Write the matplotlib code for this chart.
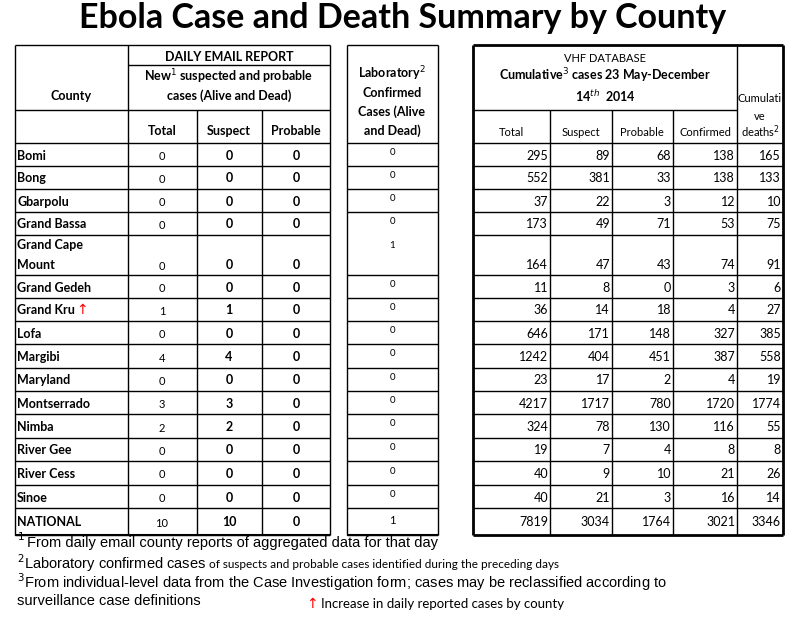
import matplotlib
matplotlib.use("Agg")
import matplotlib.pyplot as plt

counties = ["Bomi","Bong","Gbarpolu","Grand Bassa","Grand Cape\nMount","Grand Gedeh","Grand Kru",
            "Lofa","Margibi","Maryland","Montserrado","Nimba","River Gee","River Cess","Sinoe","NATIONAL"]
daily_total = [0,0,0,0,0,0,1,0,4,0,3,2,0,0,0,10]
daily_suspect = [0,0,0,0,0,0,1,0,4,0,3,2,0,0,0,10]
daily_probable = [0]*16
lab_confirmed = [0,0,0,0,1,0,0,0,0,0,0,0,0,0,0,1]
cum_total = [295,552,37,173,164,11,36,646,1242,23,4217,324,19,40,40,7819]
cum_suspect = [89,381,22,49,47,8,14,171,404,17,1717,78,7,9,21,3034]
cum_probable = [68,33,3,71,43,0,18,148,451,2,780,130,4,10,3,1764]
cum_confirmed = [138,138,12,53,74,3,4,327,387,4,1720,116,8,21,16,3021]
cum_deaths = [165,133,10,75,91,6,27,385,558,19,1774,55,8,26,14,3346]

row_edges = [143,166,189,212,235,275,298,321,344,368,391,414,438,461,485,508,535]
F = ['Lato', 'DejaVu Sans']
N = ['Liberation Sans', 'DejaVu Sans']

fig = plt.figure(figsize=(8.06, 6.24), dpi=100)
ax = fig.add_axes([0, 0, 1, 1])
ax.set_xlim(0, 806); ax.set_ylim(624, 0); ax.axis('off')
renderer = fig.canvas.get_renderer()

def right_edge(txt):
    bb = txt.get_window_extent(renderer=renderer)
    return ax.transData.inverted().transform((bb.x1, bb.y0))[0]

def hl(y, x0, x1, lw=1):
    ax.plot([x0, x1], [y, y], color='black', lw=lw, solid_capstyle='butt')
def vl(x, y0, y1, lw=1):
    ax.plot([x, x], [y0, y1], color='black', lw=lw, solid_capstyle='butt')
def t(x, y, s, size=9, bold=True, ha='center', fam=F, color='black'):
    return ax.text(x, y, s, fontsize=size, fontweight='bold' if bold else 'normal', ha=ha, va='center',
                   family=fam, color=color)

ax.text(403, 18, "Ebola Case and Death Summary by County", fontsize=24.5, fontweight='bold',
        ha='center', va='center', family=F)

top, bot = 45, 535
for x in [15, 330]:
    vl(x, top, bot)
vl(128, top, bot); vl(197, 110, bot); vl(262, 110, bot)
vl(347, top, bot); vl(438, top, bot)
hl(top, 15, 330); hl(top, 347, 438); hl(65, 128, 330); hl(110, 15, 330)
for y in row_edges:
    hl(y, 15, 330)
    if y != 235:
        hl(y, 347, 438)
hl(bot, 15, 330, 1.5); hl(bot, 347, 438, 1.5)

vl(473, top, bot, 2); vl(783, top, bot, 2); vl(737, top, bot)
for x in [550, 612, 673]:
    vl(x, 110, bot)
hl(top, 473, 783, 2); hl(bot, 473, 783, 2); hl(110, 473, 737)
for y in row_edges[:-1]:
    hl(y, 473, 783)

t(71, 96, "County")
t(229, 57, "DAILY EMAIL REPORT")
t(229, 77, "New$^{1}$ suspected and probable")
t(229, 96, "cases (Alive and Dead)")
t(162, 131, "Total"); t(229, 131, "Suspect"); t(296, 131, "Probable")
for i, s in enumerate(["Laboratory$^{2}$", "Confirmed", "Cases (Alive", "and Dead)"]):
    t(392, 74 + i * 19, s)
t(605, 58, "VHF DATABASE", size=8, bold=False)
t(605, 76, "Cumulative$^{3}$ cases 23 May-December")
t(605, 96, "14$^{th}$  2014")
t(760, 99, "Cumulati", size=8, bold=False); t(760, 116, "ve", size=8, bold=False)
t(760, 132, "deaths$^{2}$", size=8, bold=False)
t(511, 132, "Total", size=8, bold=False); t(581, 132, "Suspect", size=8, bold=False)
t(642, 132, "Probable", size=8, bold=False); t(705, 132, "Confirmed", size=8, bold=False)

for i, c in enumerate(counties):
    y0, y1 = row_edges[i], row_edges[i + 1]
    yc = (y0 + y1) / 2 + 1
    if "\n" in c:
        a, b = c.split("\n")
        t(17, y0 + 10, a, ha='left'); t(17, y1 - 10, b, ha='left')
        yv = y1 - 10
        t(392, y0 + 10, str(lab_confirmed[i]), size=7, bold=False)
    else:
        lab = t(17, yc, c, ha='left')
        yv = yc
        t(392, yc - 3 if i < 15 else yc - 2, str(lab_confirmed[i]), size=7 if i < 15 else 8, bold=False)
        if c == "Grand Kru":
            ax.text(right_edge(lab) + 1, yc, "↑", fontsize=10, color='red', ha='left', va='center',
                    family=['DejaVu Sans'])
    t(162, yv + 1, str(daily_total[i]), size=8, bold=False)
    t(229, yv, str(daily_suspect[i]))
    t(296, yv, str(daily_probable[i]))
    for xr, arr in [(548, cum_total), (610, cum_suspect), (671, cum_probable), (735, cum_confirmed), (781, cum_deaths)]:
        t(xr, yv, str(arr[i]), size=9, bold=False, ha='right')

ax.text(17, 541, "$^{1}$", fontsize=11, fontweight='bold', ha='left', va='center', family=N)
ax.text(27, 543, "From daily email county reports of aggregated data for that day", fontsize=10.5, ha='left', va='center', family=N)
l2 = ax.text(17, 563, "$^{2}$Laboratory confirmed cases", fontsize=10.5, ha='left', va='center', family=N)
ax.text(right_edge(l2) + 3, 564, "of suspects and probable cases identified during the preceding days",
        fontsize=8.5, ha='left', va='center', family=F)
ax.text(17, 582, "$^{3}$From individual-level data from the Case Investigation form; cases may be reclassified according to", fontsize=10.5, ha='left', va='center', family=N)
ax.text(17, 601, "surveillance case definitions", fontsize=10.5, ha='left', va='center', family=N)
ax.text(306, 604, "↑", fontsize=10, color='red', ha='left', va='center', family=['DejaVu Sans'])
ax.text(321, 604, "Increase in daily reported cases by county", fontsize=9.5, ha='left', va='center', family=F)

fig.savefig("out.png", dpi=100)
